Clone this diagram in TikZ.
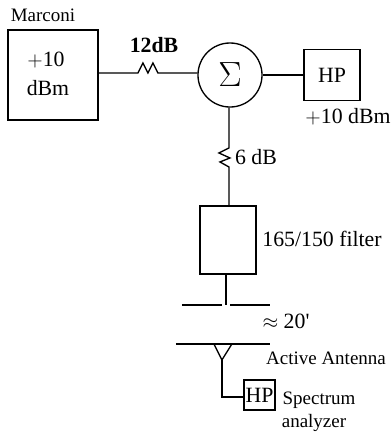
\documentclass[tikz,border=0pt]{standalone}
\usepackage{fontspec}
\usepackage{amsmath}
\setmainfont{Liberation Serif}
\newfontfamily\plainfont{Liberation Serif}
\tikzset{
  biglab/.style={inner sep=0pt, font=\fontsize{15.5}{18}\selectfont},
  smalllab/.style={inner sep=0pt, font=\fontsize{13.5}{16}\selectfont},
  boxnode/.style={draw, inner sep=0pt, font=\fontsize{15.5}{18}\selectfont}
}
\begin{document}
\begin{tikzpicture}[scale=.025, yscale=-1, line width=.95pt]
             \useasboundingbox (0,0) rectangle (392,432);

             \node[boxnode, minimum width=2.25cm, minimum height=2.25cm] (marconi) at (53, 75) {};
             \node[smalllab] (marconilab) at (43, 15) {Marconi};
             \node[biglab] (plusten) at (46, 60) {$+$10};
             \node[biglab] (dbm) at (48, 88) {dBm};

             \node[draw, circle, inner sep=0pt, minimum size=1.6cm, font=\fontsize{26}{28}\selectfont] (sum) at (230, 75) {$\Sigma$};
             \node[boxnode, minimum width=1.4cm, minimum height=1.275cm] (hp) at (332, 75) {HP};
             \node[biglab] (hplab) at (348, 117) {$+$10 dBm};
             \node[biglab] (attlab) at (154, 45) {\textbf{12dB}};
             \node[biglab] (attlabb) at (256, 157) {6 dB};

             \node[boxnode, minimum width=1.4cm, minimum height=1.7cm] (filter) at (228, 240) {};
             \node[biglab] (filterlab) at (322, 239) {165/150 filter};
             \node[biglab] (distlab) at (286, 321) {$\approx$ 20{\plainfont '}};
             \node[smalllab] (antlab) at (326, 358) {Active Antenna};

             \node[boxnode, minimum width=.775cm, minimum height=.75cm] (sa) at (259.5, 395) {HP};
             \node[smalllab] (speclab) at (319, 400) {Spectrum};
             \node[smalllab] (analab) at (314, 423) {analyzer};

             % attenuators
             \coordinate (ra) at (138, 73);
             \coordinate (rb) at (158, 73);
             \coordinate (rc) at (229, 148);
             \coordinate (rd) at (229, 167);
             \draw (marconi.east |- ra) -- (ra) -- ++(5,-10) -- ++(5,10) -- ++(5,-10) -- (rb) -- (sum.west |- rb);
             \draw (sum.east) -- (hp.west);
             \draw (sum.south -| rc) -- (rc) -- ++(-10,5) -- ++(11,5) -- ++(-10,4) -- (rd) -- (filter.north -| rd);

             % plates
             \coordinate (st) at (226, 305);
             \coordinate (pa) at (182, 305);
             \coordinate (pb) at (222, 305);
             \coordinate (pc) at (230, 305);
             \coordinate (pd) at (270, 305);
             \coordinate (qa) at (176, 344);
             \coordinate (qb) at (270, 344);
             \draw (filter.south -| st) -- (st);
             \draw (pa) -- (pb);
             \draw (pc) -- (pd);
             \draw (qa) -- (qb);

             % antenna
             \coordinate (ta) at (214, 344);
             \coordinate (tb) at (232, 344);
             \coordinate (tip) at (222, 360);
             \coordinate (bend) at (222, 397);
             \draw (ta) -- (tip) -- (tb);
             \draw (tip) -- (bend) -- (sa.west |- bend);
             \end{tikzpicture}
\end{document}
